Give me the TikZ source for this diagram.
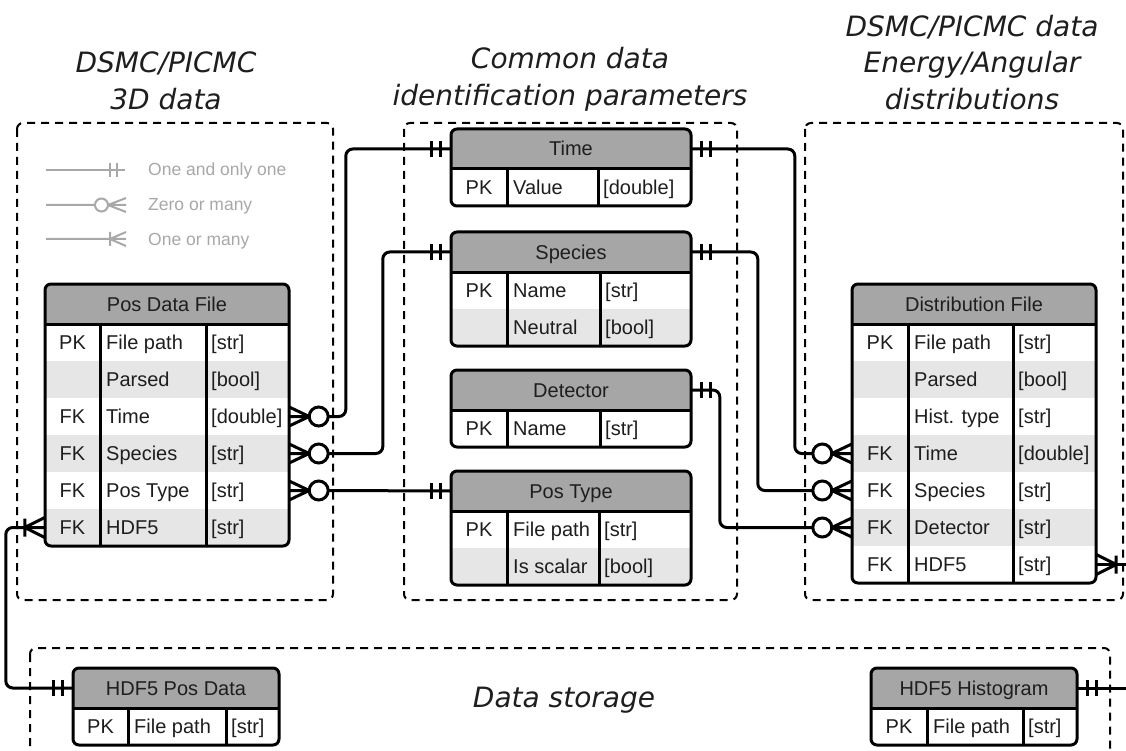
\documentclass[tikz,border=0pt]{standalone}
\usepackage{fontspec}
\setmainfont{Liberation Sans}
\newfontfamily\titlefont{DejaVu Sans}
\usetikzlibrary{calc}
\definecolor{hdrgray}{HTML}{A6A6A6}
\definecolor{rowgray}{HTML}{E6E6E6}
\definecolor{txt}{HTML}{1E1E1E}
\definecolor{leg}{HTML}{A8A8A8}
\tikzset{
  tbl/.style={line width=3pt, draw=black},
  conn/.style={line width=3pt, rounded corners=7pt},
  sym/.style={line width=3pt},
  grp/.style={dash pattern=on 8pt off 6pt, line width=2pt, rounded corners=6pt},
  cell/.style={font=\fontsize{20}{24}\selectfont, text=txt, inner sep=0pt},
  ttl/.style={font=\titlefont\itshape\fontsize{28}{34}\selectfont, text=txt, inner sep=0pt, anchor=base},
  legtext/.style={font=\fontsize{17.5}{20}\selectfont, text=leg, anchor=base west, inner sep=0pt},
  legline/.style={draw=leg, line width=2pt},
  zcirc/.style={circle, draw, line width=3pt, fill=white, minimum size=19pt, inner sep=0pt},
}
% #1 name #2 xl #3 xr #4 ytop #5 d1 #6 d2 #7 nrows #8 title #9 rows
\newcommand\ertable[9]{%
  \pgfmathsetmacro\erhb{#4+40}%
  \pgfmathsetmacro\erbot{#4+40+#7*37}%
  \begin{scope}
    \clip[rounded corners=6pt] (#2,#4) rectangle (#3,\erbot);
    \fill[hdrgray] (#2,#4) rectangle (#3,\erhb);
    \foreach \k/\nm/\ty/\g [count=\i] in {#9}{%
      \ifnum\g=1 \fill[rowgray] (#2,{\erhb+(\i-1)*37}) rectangle (#3,{\erhb+\i*37});\fi
    }
  \end{scope}
  \node[cell, minimum width={#3-#2}, minimum height=40pt] (#1) at ({(#2+#3)/2},{#4+20}) {};
  \node[cell, anchor=base] (#1-title) at ({(#2+#3)/2},{#4+27}) {#8};
  \foreach \k/\nm/\ty/\g [count=\i] in {#9}{%
    \pgfmathsetmacro\erc{\erhb+(\i-0.5)*37}
    \node[cell, minimum width={#3-#2}, minimum height=37pt] (#1-\i) at ({(#2+#3)/2},\erc) {};
    \node[cell, anchor=base] (#1-\i-k) at ({(#2+#5)/2},{\erc+7}) {\k};
    \node[cell, anchor=base west] (#1-\i-n) at ({#5+6},{\erc+7}) {\nm};
    \node[cell, anchor=base west] (#1-\i-t) at ({#6+5},{\erc+7}) {\ty};
  }
  \draw[tbl, rounded corners=6pt] (#2,#4) rectangle (#3,\erbot);
  \draw[tbl] (#2,\erhb) -- (#3,\erhb) (#5,\erhb) -- (#5,\erbot) (#6,\erhb) -- (#6,\erbot);
}
% crow's foot with circle: #1 anchor, #2 dir, #3 circle name
\newcommand\zeromany[3]{%
  \draw[sym] ($(#1)+(0,-9.5)$) -- ($(#1)+(#2*20,0)$)
             ($(#1)+(0,9.5)$) -- ($(#1)+(#2*20,0)$)
             (#1) -- ($(#1)+(#2*20,0)$);
  \node[zcirc] (#3) at ($(#1)+(#2*29.5,0)$) {};
}
\newcommand\onlyone[2]{%
  \draw[sym] ($(#1)+(#2*10,-8)$) -- ($(#1)+(#2*10,8)$)
             ($(#1)+(#2*19,-8)$) -- ($(#1)+(#2*19,8)$);
}
\newcommand\onemany[2]{%
  \draw[sym] ($(#1)+(0,-10)$) -- ($(#1)+(#2*20,0)$)
             ($(#1)+(0,10)$) -- ($(#1)+(#2*20,0)$)
             ($(#1)+(#2*20,-9)$) -- ($(#1)+(#2*20,9)$);
}
\begin{document}
\begin{tikzpicture}[x=1pt, y=-1pt]
\useasboundingbox (0,0) rectangle (1126,751);
\fill[white] (0,0) rectangle (1126,751);

% group boxes
\draw[grp] (17,123) rectangle (333,600);
\draw[grp] (404,123) rectangle (737,600);
\draw[grp] (805,123) rectangle (1123,600);
\draw[grp] (30,648) rectangle (1110,780);

% titles
\node[ttl] (t1a) at (166,73) {DSMC/PICMC};
\node[ttl] (t1b) at (166,110) {3D data};
\node[ttl] (t2a) at (570,69) {Common data};
\node[ttl] (t2b) at (570,106) {identification parameters};
\node[ttl] (t3a) at (972,37) {DSMC/PICMC data};
\node[ttl] (t3b) at (972,73) {Energy/Angular};
\node[ttl] (t3c) at (972,110) {distributions};
\node[ttl] (t4) at (564,707) {Data storage};

% legend
\draw[legline] (46,170) -- (125,170) (110,163) -- (110,177) (117,163) -- (117,177);
\node[legtext] (l1) at (148,176) {One and only one};
\draw[legline] (46,205) -- (95,205) (101.5,205) circle[radius=6.5pt]
  (108,205) -- (126,198) (108,205) -- (126,212) (108,205) -- (126,205);
\node[legtext] (l2) at (148,211) {Zero or many};
\draw[legline] (46,239) -- (126,239) (110,232) -- (110,246)
  (110,239) -- (126,232) (110,239) -- (126,246);
\node[legtext] (l3) at (148,245) {One or many};

% tables
\ertable{pos}{45}{289}{284}{100}{206}{6}{Pos Data File}{PK/File path/[str]/0, /Parsed/[bool]/1, FK/Time/[double]/0, FK/Species/[str]/1, FK/Pos Type/[str]/0, FK/HDF5/[str]/1}
\ertable{time}{451}{691}{129}{507}{598}{1}{Time}{PK/Value/[double]/0}
\ertable{species}{451}{691}{232}{507}{600}{2}{Species}{PK/Name/[str]/0, /Neutral/[bool]/1}
\ertable{detector}{451}{691}{370}{507}{600}{1}{Detector}{PK/Name/[str]/0}
\ertable{postype}{451}{691}{471}{507}{599}{2}{Pos Type}{PK/File path/[str]/0, /Is scalar/[bool]/1}
\ertable{dist}{852}{1096}{284}{908}{1013}{7}{Distribution File}{PK/File path/[str]/0, /Parsed/[bool]/1, /Hist. type/[str]/0, FK/Time/[double]/1, FK/Species/[str]/0, FK/Detector/[str]/1, FK/HDF5/[str]/0}
\ertable{h5pos}{73}{279}{668}{128}{226}{1}{HDF5 Pos Data}{PK/File path/[str]/0}
\ertable{h5hist}{871}{1077}{668}{927}{1023}{1}{HDF5 Histogram}{PK/File path/[str]/0}

% connectors: Pos Data File
\draw[conn] ($(pos-3.east)+(38,0)$) -| ($(time.west)+(-105,0)$) -- (time.west);
\draw[conn] ($(pos-4.east)+(38,0)$) -| ($(species.west)+(-68,0)$) -- (species.west);
\draw[conn] ($(pos-5.east)+(38,0)$) -- (postype.west);
\zeromany{pos-3.east}{1}{c1}
\zeromany{pos-4.east}{1}{c2}
\zeromany{pos-5.east}{1}{c3}
\onlyone{time.west}{-1}
\onlyone{species.west}{-1}
\onlyone{postype.west}{-1}

% connectors: Distribution File
\draw[conn] (time.east) -| ($(dist-4.west)+(-57,0)$) -- ($(dist-4.west)+(-40,0)$);
\draw[conn] (species.east) -| ($(dist-5.west)+(-94,0)$) -- ($(dist-5.west)+(-40,0)$);
\draw[conn] (detector.east) -| ($(dist-6.west)+(-132,0)$) -- ($(dist-6.west)+(-40,0)$);
\zeromany{dist-4.west}{-1}{d1}
\zeromany{dist-5.west}{-1}{d2}
\zeromany{dist-6.west}{-1}{d3}
\onlyone{time.east}{1}
\onlyone{species.east}{1}
\onlyone{detector.east}{1}

% HDF5 links
\draw[conn] (pos-6.west) -| ($(h5pos.west)+(-67,0)$) -- (h5pos.west);
\onemany{pos-6.west}{-1}
\onlyone{h5pos.west}{-1}
\coordinate (edgeA) at ($(dist-7.east)+(40,0)$);
\draw[conn] (dist-7.east) -- (edgeA);
\onemany{dist-7.east}{1}
\coordinate (edgeB) at ($(h5hist.east)+(60,0)$);
\draw[conn] (h5hist.east) -- (edgeB);
\onlyone{h5hist.east}{1}
\end{tikzpicture}
\end{document}
